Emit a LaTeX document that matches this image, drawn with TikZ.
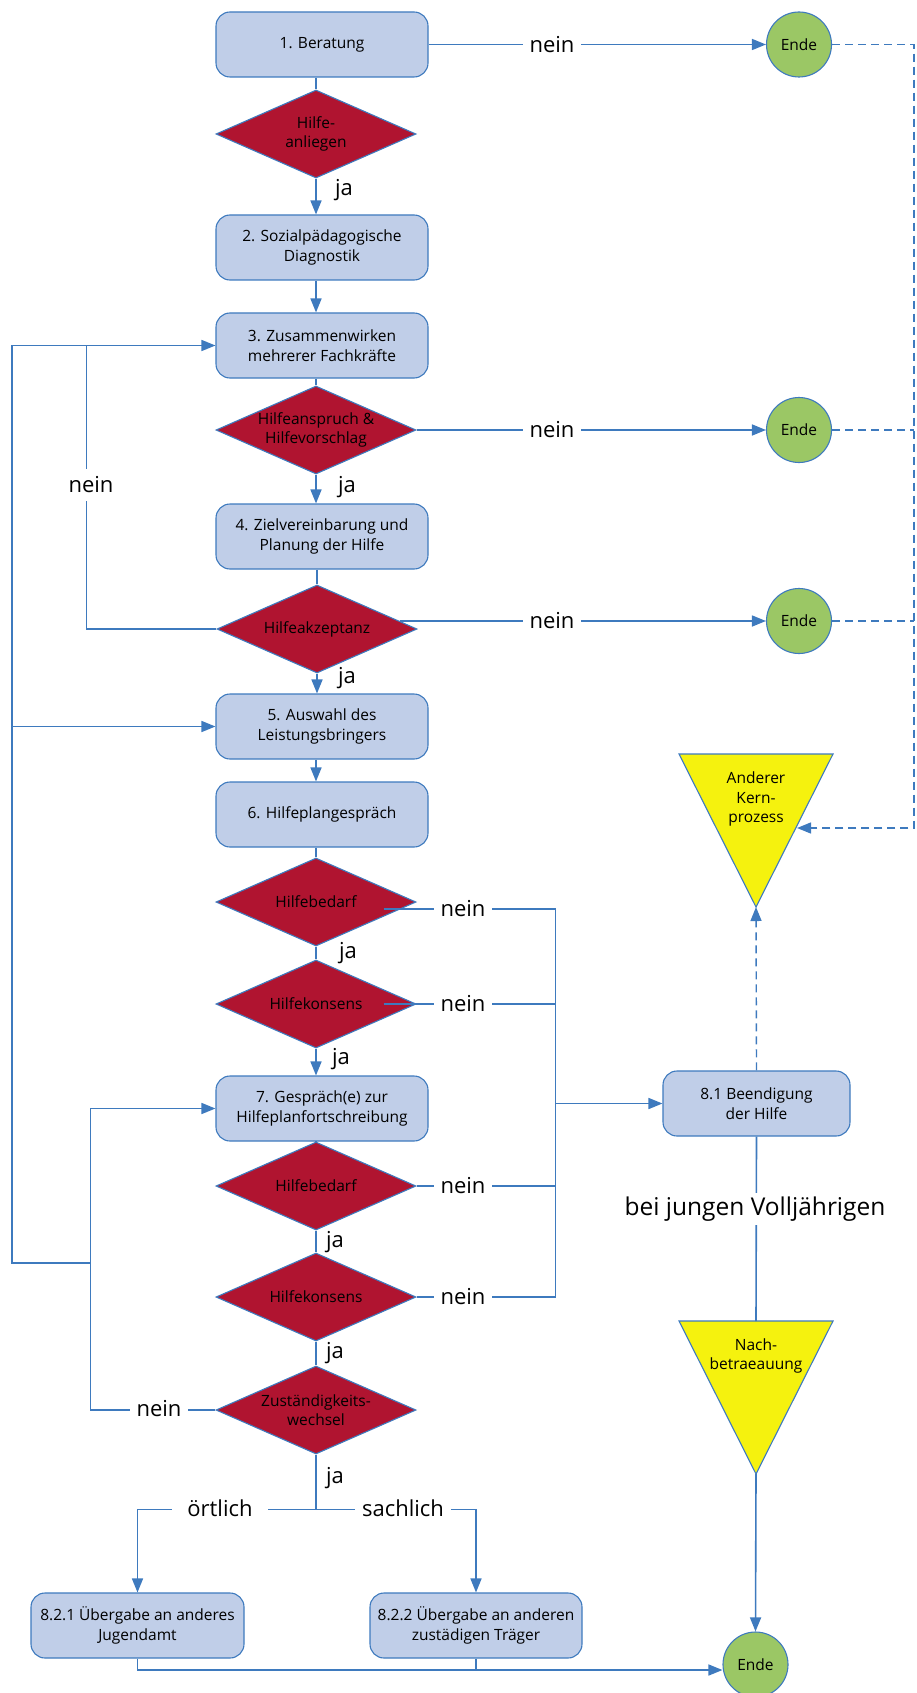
\documentclass[tikz,border=0pt]{standalone}
\usepackage{fontspec}
\setmainfont{Open Sans}
\usetikzlibrary{shapes.geometric, arrows.meta, calc}

\definecolor{boxfill}{RGB}{192,206,232}
\definecolor{lineblue}{RGB}{62,122,190}
\definecolor{rotfill}{RGB}{176,20,48}
\definecolor{gruenfill}{RGB}{155,199,101}
\definecolor{gelbfill}{RGB}{245,242,14}

\newcommand{\smalltext}{\fontsize{15.5pt}{19.5pt}\selectfont}
\newcommand{\bigtext}{\fontsize{22pt}{26pt}\selectfont}

\tikzset{
  box/.style={draw=lineblue, line width=1.1pt, fill=boxfill, rounded corners=14pt,
    minimum width=212pt, minimum height=65pt, align=center, font=\smalltext, inner sep=2pt},
  entscheid/.style={diamond, draw=lineblue, line width=1.1pt, fill=rotfill, shape aspect=2.27,
    minimum width=200pt, minimum height=88pt, inner sep=0pt, align=center, font=\smalltext},
  ende/.style={circle, draw=lineblue, line width=1.1pt, fill=gruenfill, minimum size=65pt,
    inner sep=0pt, font=\smalltext},
  dreieck/.style={draw=lineblue, line width=1.1pt, fill=gelbfill},
  dreitext/.style={align=center, font=\smalltext, inner sep=0pt},
  conn/.style={draw=lineblue, line width=1.6pt},
  arr/.style={conn, -{Triangle[length=14pt,width=11pt]}},
  dashconn/.style={conn, line width=1.4pt, dash pattern=on 8pt off 5pt},
  dasharr/.style={dashconn, -{Triangle[length=14pt,width=11pt]}},
  lbl/.style={font=\bigtext, inner sep=0pt},
  gap/.style={font=\bigtext, fill=white, inner xsep=7pt, inner ysep=3pt},
}

\begin{document}
\begin{tikzpicture}[x=1pt, y=-1pt]
  \useasboundingbox (0,0) rectangle (916,1693);

  % Hauptspalte
  \node[box] (b1) at (322,44.5) {1. Beratung};
  \node[entscheid] (d1) at (316,134) {Hilfe-\\anliegen};
  \node[box] (b2) at (322,247.5) {2. Sozialpädagogische\\Diagnostik};
  \node[box] (b3) at (322,345.5) {3. Zusammenwirken\\mehrerer Fachkräfte};
  \node[entscheid] (d2) at (316,430) {Hilfeanspruch \&\\Hilfevorschlag};
  \node[box] (b4) at (322,536.5) {4. Zielvereinbarung und\\Planung der Hilfe};
  \node[entscheid] (d3) at (317,629) {Hilfeakzeptanz};
  \node[box] (b5) at (322,726.5) {5. Auswahl des\\Leistungsbringers};
  \node[box] (b6) at (322,814.5) {6. Hilfeplangespräch};
  \node[entscheid] (d4) at (316,902) {Hilfebedarf};
  \node[entscheid] (d5) at (316,1004) {Hilfekonsens};
  \node[box] (b7) at (322,1108.5) {7. Gespräch(e) zur\\Hilfeplanfortschreibung};
  \node[entscheid] (d6) at (316,1186) {Hilfebedarf};
  \node[entscheid] (d7) at (316,1297) {Hilfekonsens};
  \node[entscheid] (d8) at (316,1410) {Zuständigkeits-\\wechsel};

  % Uebergaben und Beendigung
  \node[box, minimum width=213pt] (b821) at (137.5,1625.5) {8.2.1 Übergabe an anderes\\Jugendamt};
  \node[box] (b822) at (476,1625.5) {8.2.2 Übergabe an anderen\\zustädigen Träger};
  \node[box, minimum width=187pt] (b81) at (756.5,1103.5) {8.1 Beendigung\\der Hilfe};

  % Ende
  \node[ende] (e1) at (799,44.5) {Ende};
  \node[ende] (e2) at (799,430) {Ende};
  \node[ende] (e3) at (799,621) {Ende};
  \node[ende] (e4) at (755.5,1664.5) {Ende};

  % Dreiecke
  \draw[dreieck] (679,754) -- (833,754) -- (756,907) coordinate (kern-spitze) -- cycle;
  \node[dreitext] (kern) at (756,799) {Anderer\\Kern-\\prozess};
  \draw[dreieck] (679,1321) -- (833,1321) -- (756,1474) coordinate (nach-spitze) -- cycle;
  \coordinate (nach-oben) at (756,1321);
  \node[dreitext] (nach) at (756,1356) {Nach-\\betraeauung};

  % Verbindungen Hauptspalte
  \draw[conn] (b1.south -| d1.north) -- (d1.north);
  \draw[arr] (d1.south) -- (b2.north -| d1.south);
  \draw[arr] (b2.south -| d2.north) -- (b3.north -| d2.north);
  \draw[conn] (b3.south -| d2.north) -- (d2.north);
  \draw[arr] (d2.south) -- (b4.north -| d2.south);
  \draw[conn] (b4.south -| d3.north) -- (d3.north);
  \draw[arr] (d3.south) -- (b5.north -| d3.south);
  \draw[arr] (b5.south -| d4.north) -- (b6.north -| d4.north);
  \draw[conn] (b6.south -| d4.north) -- (d4.north);
  \draw[conn] (d4.south) -- (d5.north);
  \draw[arr] (d5.south) -- (b7.north -| d5.south);
  \draw[conn] (b7.south -| d6.north) -- (d6.north);
  \draw[conn] (d6.south) -- (d7.north);
  \draw[conn] (d7.south) -- (d8.north);

  % nein -> Ende
  \draw[arr] (b1.east) -- (e1.west);
  \draw[arr] (d2.east) -- (e2.west);
  \draw[arr] ($(d3.east)+(-18,-8)$) -- (e3.west);

  % Ruecklaeufe links
  \draw[arr] (d3.west) -- ++(-130,0) coordinate (lin) -- (lin |- b3.west) -- (b3.west);
  \draw[arr] (d8.west) -- ++(-125,0) coordinate (lin2) -- (lin2 |- b7.west) -- (b7.west);
  \coordinate (lout) at (12,1263);
  \draw[conn] (lin2 |- lout) -- (lout) -- (lout |- b3.west) -- (lin |- b3.west);
  \draw[arr] (lout |- b5.west) -- (b5.west);

  % nein -> Beendigung
  \draw[conn] ($(d4.east)+(-33,7)$) -- ++(172,0) coordinate (rbus) -- (rbus |- d7.east) -- (d7.east);
  \draw[conn] ($(d5.east)+(-33,0)$) -- (rbus |- d5.east);
  \draw[conn] (d6.east) -- (rbus |- d6.east);
  \draw[arr] (rbus |- b81.west) -- (b81.west);

  % Zustaendigkeitswechsel
  \draw[conn] (d8.south) -- ++(0,55) coordinate (gabel);
  \draw[arr] (gabel) -- (gabel -| b821.north) -- (b821.north);
  \draw[arr] (gabel) -- (gabel -| b822.north) -- (b822.north);
  \coordinate (unten) at (137.5,1670);
  \draw[arr] (b821.south) -- (unten) -- (unten -| e4.west);
  \draw[conn] (b822.south) -- (b822.south |- unten);

  % rechte Seite
  \draw[conn] (b81.south) -- (nach-oben);
  \draw[arr] (nach-spitze) -- (e4.north);
  \draw[dasharr] (b81.north) -- (kern-spitze);
  \coordinate (rand) at (914,44.5);
  \coordinate (kern-ein) at (797,828);
  \draw[dasharr] (e1.east) -- (rand) -- (rand |- kern-ein) -- (kern-ein);
  \foreach \e in {e2,e3} \draw[dashconn] (\e.east) -- (\e.east -| rand);

  % Beschriftungen
  \foreach \x/\y [count=\i] in {344/190, 347/487, 347/678, 348/953, 341/1059, 335/1242, 335/1353, 335/1478}
    \node[lbl] (ja\i) at (\x,\y) {ja};
  \foreach \x/\y [count=\i] in {552/44.5, 552/430, 552/621, 463/909, 463/1004, 463/1186, 463/1297, 159/1409}
    \node[gap] (nein\i) at (\x,\y) {nein};
  \node[gap, inner ysep=8pt] (nein9) at (91,485) {nein};
  \node[gap, inner xsep=15pt] (oertlich) at (220,1508) {örtlich};
  \node[gap] (sachlich) at (403,1508) {sachlich};
  \node[gap, inner ysep=4pt, font=\fontsize{24.5pt}{28pt}\selectfont] (volljaehrig) at (755,1209) {bei jungen Volljährigen};
\end{tikzpicture}
\end{document}
